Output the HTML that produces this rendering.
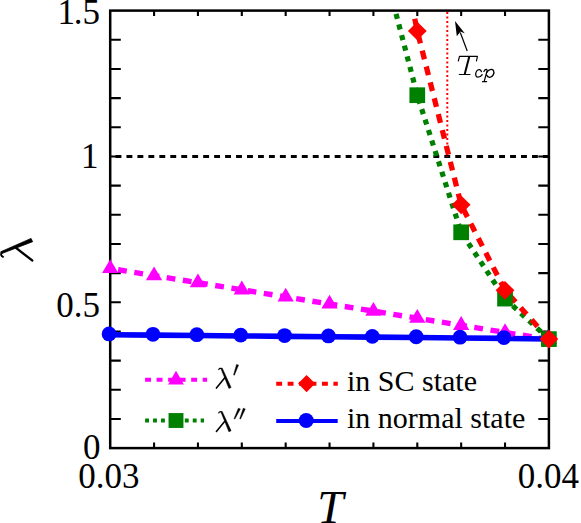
<!DOCTYPE html><html><head><meta charset="utf-8"><style>html,body{margin:0;padding:0;background:#fff;}svg{display:block;position:absolute;left:0;top:0;}text{font-family:"Liberation Serif",serif;fill:#000;}</style></head><body>
<svg width="581" height="523" viewBox="0 0 581 523">
<rect width="581" height="523" fill="#fff"/>
<defs><clipPath id="c"><rect x="110.2" y="10.6" width="438.7" height="437.5"/></clipPath></defs>
<path d="M154.07 448.1 v-5.6 M154.07 10.6 v5.3 M197.94 448.1 v-5.6 M197.94 10.6 v5.3 M241.81 448.1 v-5.6 M241.81 10.6 v5.3 M285.68 448.1 v-5.6 M285.68 10.6 v5.3 M329.55 448.1 v-5.6 M329.55 10.6 v5.3 M373.42 448.1 v-5.6 M373.42 10.6 v5.3 M417.29 448.1 v-5.6 M417.29 10.6 v5.3 M461.16 448.1 v-5.6 M461.16 10.6 v5.3 M505.03 448.1 v-5.6 M505.03 10.6 v5.3 M110.2 418.93 h10.6 M548.9 418.93 h-10.6 M110.2 389.77 h10.6 M548.9 389.77 h-10.6 M110.2 360.6 h10.6 M548.9 360.6 h-10.6 M110.2 331.43 h10.6 M548.9 331.43 h-10.6 M110.2 302.27 h10.6 M548.9 302.27 h-10.6 M110.2 273.1 h10.6 M548.9 273.1 h-10.6 M110.2 243.93 h10.6 M548.9 243.93 h-10.6 M110.2 214.77 h10.6 M548.9 214.77 h-10.6 M110.2 185.6 h10.6 M548.9 185.6 h-10.6 M110.2 156.43 h10.6 M548.9 156.43 h-10.6 M110.2 127.27 h10.6 M548.9 127.27 h-10.6 M110.2 98.1 h10.6 M548.9 98.1 h-10.6 M110.2 68.93 h10.6 M548.9 68.93 h-10.6 M110.2 39.77 h10.6 M548.9 39.77 h-10.6" stroke="#000" stroke-width="2.1" fill="none"/>
<path d="M115.5 156.43 H548.9" stroke="#000" stroke-width="3.1" stroke-dasharray="5.9 5.06" fill="none" clip-path="url(#c)"/>
<path d="M447.3 12.1 V156.43" stroke="#f00" stroke-width="2" stroke-dasharray="2 2.5" fill="none"/>
<g clip-path="url(#c)"><path d="M110.2 268.5 L154.07 275.6 L197.94 282.7 L241.81 289.8 L285.68 296.9 L329.55 304 L373.42 311.1 L417.29 318.2 L461.16 325.3 L505.03 332.4 L548.9 339.5" stroke="#f0f" stroke-width="5.4" stroke-dasharray="8.8 7.6" stroke-dashoffset="8.4" fill="none"/></g>
<g clip-path="url(#c)"><path d="M110.2 334.7 L154.07 335.11 L197.94 335.52 L241.81 335.93 L285.68 336.34 L329.55 336.75 L373.42 337.16 L417.29 337.57 L461.16 337.98 L505.03 338.39 L548.9 339" stroke="#00f" stroke-width="5.6" fill="none"/></g>
<g clip-path="url(#c)"><path id="gl" d="M373.42 -73 L417.29 95.2 L461.16 232.3 L505.03 298.6 L548.9 339.1" stroke="#008000" stroke-width="5.2" stroke-dasharray="5.2 5.77" stroke-dashoffset="9.0" fill="none"/></g>
<g clip-path="url(#c)"><path id="rl" d="M373.42 -180 L417.29 31 L461.16 204.8 L505.03 290.3 L548.9 339.1" stroke="#f00" stroke-width="5.3" stroke-dasharray="8.9 7.48" stroke-dashoffset="9.95" fill="none"/></g>
<rect x="110.2" y="10.6" width="438.7" height="437.5" fill="none" stroke="#000" stroke-width="2.5"/>
<path d="M110.2 259.3 L118.35 273.1 L102.05 273.1Z" fill="#f0f"/>
<path d="M154.07 266.4 L162.22 280.2 L145.92 280.2Z" fill="#f0f"/>
<path d="M197.94 273.5 L206.09 287.3 L189.79 287.3Z" fill="#f0f"/>
<path d="M241.81 280.6 L249.96 294.4 L233.66 294.4Z" fill="#f0f"/>
<path d="M285.68 287.7 L293.83 301.5 L277.53 301.5Z" fill="#f0f"/>
<path d="M329.55 294.8 L337.7 308.6 L321.4 308.6Z" fill="#f0f"/>
<path d="M373.42 301.9 L381.57 315.7 L365.27 315.7Z" fill="#f0f"/>
<path d="M417.29 309 L425.44 322.8 L409.14 322.8Z" fill="#f0f"/>
<path d="M461.16 316.1 L469.31 329.9 L453.01 329.9Z" fill="#f0f"/>
<path d="M505.03 323.2 L513.18 337 L496.88 337Z" fill="#f0f"/>
<path d="M548.9 330.3 L557.05 344.1 L540.75 344.1Z" fill="#f0f"/>
<circle cx="109.1" cy="333.9" r="7.4" fill="#00f"/>
<circle cx="152.97" cy="334.31" r="7.4" fill="#00f"/>
<circle cx="196.84" cy="334.72" r="7.4" fill="#00f"/>
<circle cx="240.71" cy="335.13" r="7.4" fill="#00f"/>
<circle cx="284.58" cy="335.54" r="7.4" fill="#00f"/>
<circle cx="328.45" cy="335.95" r="7.4" fill="#00f"/>
<circle cx="372.32" cy="336.36" r="7.4" fill="#00f"/>
<circle cx="416.19" cy="336.77" r="7.4" fill="#00f"/>
<circle cx="460.06" cy="337.18" r="7.4" fill="#00f"/>
<circle cx="503.93" cy="337.59" r="7.4" fill="#00f"/>
<circle cx="547.8" cy="338.2" r="7.4" fill="#00f"/>
<rect x="409.44" y="87.35" width="15.7" height="15.7" fill="#008000"/>
<rect x="453.31" y="224.45" width="15.7" height="15.7" fill="#008000"/>
<rect x="497.18" y="290.75" width="15.7" height="15.7" fill="#008000"/>
<rect x="541.05" y="331.25" width="15.7" height="15.7" fill="#008000"/>
<path d="M417.29 21.65 L426.69 31 L417.29 40.35 L407.89 31Z" fill="#f00"/>
<path d="M461.16 195.45 L470.56 204.8 L461.16 214.15 L451.76 204.8Z" fill="#f00"/>
<path d="M505.03 280.95 L514.43 290.3 L505.03 299.65 L495.63 290.3Z" fill="#f00"/>
<path d="M548.9 329.75 L558.3 339.1 L548.9 348.45 L539.5 339.1Z" fill="#f00"/>
<path d="M145.1 379.75 H207.1" stroke="#f0f" stroke-width="4.2" stroke-dasharray="5.9 5.62" fill="none"/>
<path d="M176 370.7 L183.9 384.5 L168.1 384.5Z" fill="#f0f"/>
<path d="M145.1 420.5 H204" stroke="#008000" stroke-width="4" stroke-dasharray="3.9 4.04" fill="none"/>
<rect x="168.55" y="413.05" width="14.9" height="14.9" fill="#008000"/>
<path d="M276.2 383.65 H337.8" stroke="#f00" stroke-width="4" stroke-dasharray="5.9 5.54" fill="none"/>
<path d="M306.6 375.05 L315.15 383.6 L306.6 392.15 L298.05 383.6Z" fill="#f00"/>
<path d="M276.2 421 H337.7" stroke="#00f" stroke-width="4.1" fill="none"/>
<circle cx="306.2" cy="420.5" r="7.55" fill="#00f"/>
<text x="347" y="390.8" font-size="30">in SC state</text>
<text x="347" y="428" font-size="30">in normal state</text>
<g transform="translate(219.3 367.8) rotate(0) scale(1)" fill="none" stroke="#000"><path d="M-0.5 1.7 Q0.5 -0.1 2.0 0.8" stroke-width="1.2" stroke-linecap="round"/><path d="M1.5 0.5 L2.9 0.3 L11.8 19.6 L9.6 20.6Z" fill="#000" stroke-width="0.5" stroke-linejoin="round"/><path d="M5.3 10.2 L-2.9 20.3" stroke-width="1.55" stroke-linecap="round"/></g>
<g transform="translate(219.3 411.2) rotate(0) scale(1)" fill="none" stroke="#000"><path d="M-0.5 1.7 Q0.5 -0.1 2.0 0.8" stroke-width="1.2" stroke-linecap="round"/><path d="M1.5 0.5 L2.9 0.3 L11.8 19.6 L9.6 20.6Z" fill="#000" stroke-width="0.5" stroke-linejoin="round"/><path d="M5.3 10.2 L-2.9 20.3" stroke-width="1.55" stroke-linecap="round"/></g>
<path d="M236.5 364.4 L238.6 365.1 L234.4 375.2 L233.5 374.9Z" fill="#000" stroke="#000" stroke-width="0.4" stroke-linejoin="round"/>
<path d="M238.3 408.2 L240.4 408.9 L234.9 419.0 L234.0 418.7Z M243.2 408.2 L245.3 408.9 L240.6 419.0 L239.7 418.7Z" fill="#000" stroke="#000" stroke-width="0.4" stroke-linejoin="round"/>
<g transform="translate(0.3 256.1) rotate(-90) scale(1.5 1.57)" fill="none" stroke="#000"><path d="M-0.5 1.7 Q0.5 -0.1 2.0 0.8" stroke-width="1.2" stroke-linecap="round"/><path d="M1.5 0.5 L2.9 0.3 L11.8 19.6 L9.6 20.6Z" fill="#000" stroke-width="0.5" stroke-linejoin="round"/><path d="M5.3 10.2 L-2.9 20.3" stroke-width="1.55" stroke-linecap="round"/></g>
<text x="317.3" y="523" font-size="47" font-style="italic">T</text>
<text x="108.8" y="487.6" font-size="35" text-anchor="middle">0.03</text>
<text x="548.4" y="487.6" font-size="35" text-anchor="middle">0.04</text>
<text x="57.6" y="24" font-size="35">1</text><text x="99.9" y="24" font-size="35" text-anchor="end">.5</text>
<text x="98.4" y="167.8" font-size="35" text-anchor="end">1</text>
<text x="99.9" y="317.4" font-size="35" text-anchor="end">0.5</text>
<text x="100.5" y="459.2" font-size="35" text-anchor="end">0</text>
<g fill="none" stroke="#000" stroke-linecap="round" stroke-linejoin="round"><path d="M458.3 61.0 L459.5 56.3 H477.4 L476.5 61.0" stroke-width="1.15"/><path d="M469.3 56.5 L464.7 74.2" stroke-width="2.0" stroke-linecap="butt"/><path d="M459.3 74.5 H470.0" stroke-width="1.15"/><path d="M481.4 71.6 C481.0 69.4 478.3 68.7 476.7 71.0 C474.9 73.8 475.5 77.2 478.0 77.2 C479.8 77.2 481.3 76.1 482.2 74.7" stroke-width="1.3"/><path d="M483.9 71.4 Q484.9 69.3 486.3 69.4 Q487.4 69.6 487.0 71.2 L484.2 81.5 M482.5 81.7 H486.6" stroke-width="1.2"/><path d="M487.0 72.2 C488.5 69.4 492.0 68.5 493.4 70.5 C494.9 72.9 492.6 77.4 489.7 77.3 C488.1 77.2 487.0 76.2 486.5 75.0" stroke-width="1.35"/></g>
<path d="M467.2 51 L460.3 32.5" stroke="#000" stroke-width="1.2" fill="none"/>
<path d="M455 21 L456.8 36.3 L460.6 31.4 L464.9 33.4Z" fill="#000"/>
</svg></body></html>
